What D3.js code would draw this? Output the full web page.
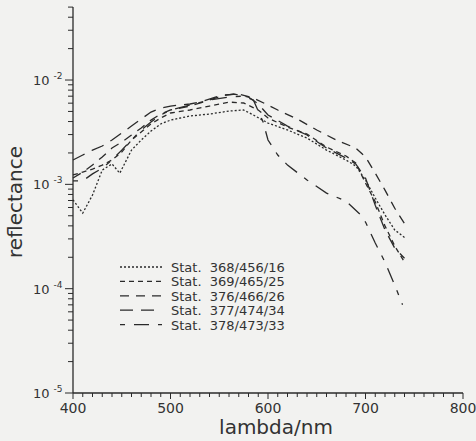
<!DOCTYPE html>
<html>
<head>
<meta charset="utf-8">
<script src="https://cdn.jsdelivr.net/npm/d3@7"></script>
<style>
body { margin:0; background:#f2f2f0; }
svg { display:block; }
.lbl { font-family:"DejaVu Sans", sans-serif; fill:#333; }
</style>
</head>
<body>
<div id="main"></div>
<script>
// station names (legend order)
const stations = ["Stat.  368/456/16", "Stat.  369/465/25", "Stat.  376/466/26", "Stat.  377/474/34", "Stat.  378/473/33"];

// wavelength (nm) and reflectance
const wl1 = [400,410,420,430,440,448,460,470,480,490,500,520,540,560,575,585,600,620,640,660,680,690,700,710,720,730,740];
const r1  = [7.1e-4,5.3e-4,7.9e-4,1.37e-3,1.57e-3,1.28e-3,2.13e-3,2.66e-3,3.24e-3,3.79e-3,4.13e-3,4.52e-3,4.72e-3,5.04e-3,5.16e-3,4.62e-3,3.87e-3,3.32e-3,2.78e-3,2.13e-3,1.71e-3,1.5e-3,1.1e-3,7.4e-4,5.1e-4,3.65e-4,3.1e-4];

const wl2 = [400,410,420,430,440,450,460,470,480,490,500,520,540,560,575,590,600,620,640,660,680,690,700,710,720,730,740];
const r2  = [1.23e-3,1.31e-3,1.4e-3,1.53e-3,1.71e-3,2.04e-3,2.66e-3,3.17e-3,3.79e-3,4.32e-3,4.83e-3,5.16e-3,5.63e-3,6.15e-3,6.02e-3,5.16e-3,4.32e-3,3.54e-3,3.04e-3,2.28e-3,1.87e-3,1.6e-3,1.03e-3,6.8e-4,4.0e-4,2.56e-4,1.8e-4];

const wl3 = [400,410,420,430,440,450,460,470,480,490,500,520,540,555,570,585,600,610,630,650,670,690,700,710,720,730,740];
const r3  = [1.15e-3,1.31e-3,1.53e-3,1.83e-3,2.23e-3,2.54e-3,2.97e-3,3.47e-3,4.13e-3,4.72e-3,5.16e-3,5.63e-3,6.43e-3,7.18e-3,7.34e-3,6.72e-3,5.76e-3,5.16e-3,4.23e-3,3.32e-3,2.66e-3,2.23e-3,1.83e-3,1.28e-3,8.8e-4,5.9e-4,4.2e-4];

const wl4 = [400,410,420,430,440,450,460,470,480,490,500,520,530,550,565,580,590,600,620,640,660,680,690,700,710,720,730,740];
const r4  = [1.71e-3,1.91e-3,2.13e-3,2.33e-3,2.66e-3,3.1e-3,3.62e-3,4.23e-3,4.93e-3,5.39e-3,5.63e-3,5.89e-3,6.15e-3,7.02e-3,7.34e-3,6.87e-3,5.89e-3,4.62e-3,3.62e-3,2.97e-3,2.23e-3,1.79e-3,1.57e-3,1.15e-3,6.3e-4,3.65e-4,2.45e-4,1.96e-4];

const wl5 = [400,410,420,430,440,450,460,470,480,490,500,520,540,560,575,585,595,600,610,620,640,660,680,695,700,710,720,730,738];
const r5  = [1.08e-3,1.08e-3,1.26e-3,1.43e-3,1.71e-3,2.13e-3,2.66e-3,3.32e-3,3.96e-3,4.62e-3,5.16e-3,5.76e-3,6.43e-3,6.87e-3,7.02e-3,6.43e-3,3.96e-3,2.66e-3,1.91e-3,1.53e-3,1.1e-3,8.25e-4,6.9e-4,5.1e-4,4.35e-4,2.74e-4,1.8e-4,1.08e-4,7.0e-5];

const dashes = ["2,2", "5,4", "9,7", "13,8", "5,9,15,9"];

const xTicks = [400,500,600,700,800];
const yTicks = [-2,-3,-4,-5];

const width = 476, height = 441;
const svg = d3.select("#main").append("svg").attr("width", width).attr("height", height);

const x = d3.scaleLinear().domain([400, 800]).range([73, 463]);
const y = d3.scaleLog().domain([1e-5, 5e-2]).range([393, 7.1]);

const ink = "#2a2a2a";

// axes lines
svg.append("line").attr("x1", x(400)).attr("x2", x(400)).attr("y1", y(5e-2)).attr("y2", y(1e-5))
  .attr("stroke", ink).attr("stroke-width", 1.3);
svg.append("line").attr("x1", x(400)).attr("x2", x(800)).attr("y1", y(1e-5)).attr("y2", y(1e-5))
  .attr("stroke", ink).attr("stroke-width", 1.3);

// x ticks every 10 nm
d3.range(400, 801, 10).forEach(v => {
  const len = v % 100 == 0 ? 6 : 4;
  svg.append("line").attr("x1", x(v)).attr("x2", x(v)).attr("y1", y(1e-5)).attr("y2", y(1e-5) + len)
    .attr("stroke", ink).attr("stroke-width", 1);
});

// y ticks, log minor
for (let e = -5; e <= -2; e++) {
  for (let m = 1; m <= 9; m++) {
    const v = m * Math.pow(10, e);
    if (v > 5e-2 + 1e-9) continue;
    const len = m == 1 ? 8 : 5;
    svg.append("line").attr("x1", x(400) - len).attr("x2", x(400)).attr("y1", y(v)).attr("y2", y(v))
      .attr("stroke", ink).attr("stroke-width", 1);
  }
}

// tick labels
xTicks.forEach(v => {
  svg.append("text").attr("class", "lbl").attr("x", x(v)).attr("y", 413)
    .attr("text-anchor", "middle").attr("font-size", 14).text(v);
});
yTicks.forEach(e => {
  const t = svg.append("text").attr("class", "lbl").attr("x", 33).attr("y", y(Math.pow(10, e)) + 5)
    .attr("font-size", 13).text("10");
  t.append("tspan").attr("dx", 4).attr("dy", -6).attr("font-size", 9).text("-" + (-e));
});

// axis titles
svg.append("text").attr("class", "lbl").attr("x", 276).attr("y", 434)
  .attr("text-anchor", "middle").attr("font-size", 20).text("lambda/nm");
svg.append("text").attr("class", "lbl").attr("transform", "translate(22,202) rotate(-90)")
  .attr("text-anchor", "middle").attr("font-size", 20).text("reflectance");

// curves
const series = [[wl1, r1], [wl2, r2], [wl3, r3], [wl4, r4], [wl5, r5]];
const line = d3.line().x(d => x(d[0])).y(d => y(d[1]));

series.forEach((s, i) => {
  const pts = s[0].map((w, j) => [w, s[1][j]]);
  svg.append("path").datum(pts).attr("d", line).attr("fill", "none")
    .attr("stroke", ink).attr("stroke-width", 1.3).attr("stroke-dasharray", dashes[i]);
});

// legend
stations.forEach((name, i) => {
  const ly = 267 + i * 14.4;
  svg.append("line").attr("x1", 120).attr("x2", 162).attr("y1", ly).attr("y2", ly)
    .attr("stroke", ink).attr("stroke-width", 1.3).attr("stroke-dasharray", dashes[i]);
  svg.append("text").attr("class", "lbl").attr("x", 171).attr("y", ly + 5)
    .attr("font-size", 13).attr("xml:space", "preserve").style("white-space", "pre").text(name);
});
</script>
</body>
</html>
